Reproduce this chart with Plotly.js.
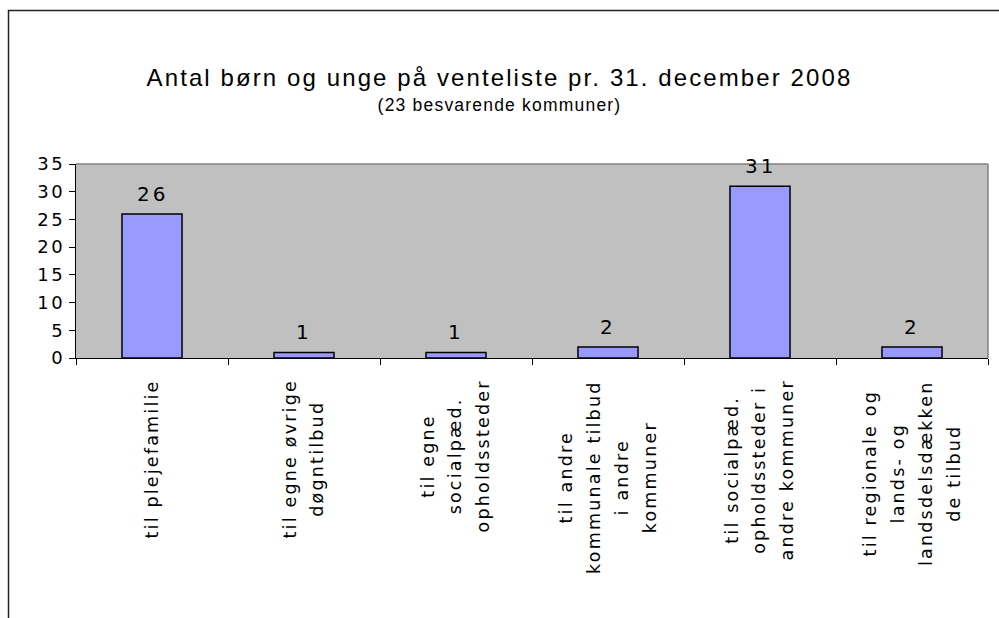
<!DOCTYPE html>
<html>
<head>
<meta charset="utf-8">
<script src="https://cdn.plot.ly/plotly-3.0.1.min.js"></script>
<style>
  html, body { margin: 0; padding: 0; background: #fff; }
  #chart { width: 999px; height: 618px; }
  .ytick text { letter-spacing: 2.6px; }
  .annotation-text { letter-spacing: 2.2px; }
</style>
</head>
<body>
<div id="chart"></div>
<script>
// ---- data ----
const categories = [
  "til plejefamilie",
  "til egne øvrige<br>døgntilbud",
  "til egne<br>socialpæd.<br>opholdssteder",
  "til andre<br>kommunale tilbud<br>i andre<br>kommuner",
  "til socialpæd.<br>opholdssteder i<br>andre kommuner",
  "til regionale og<br>lands- og<br>landsdelsdækken<br>de tilbud"
];
const catKeys = ["c1", "c2", "c3", "c4", "c5", "c6"];
const values = [26, 1, 1, 2, 31, 2];
const yTicks = [0, 5, 10, 15, 20, 25, 30, 35];
const titleText = "Antal børn og unge på venteliste pr. 31. december 2008";
const subtitleText = "(23 besvarende kommuner)";

// ---- chart ----
const FONT = "DejaVu Sans, Verdana, sans-serif";

const trace = {
  type: "bar",
  x: catKeys,
  y: values,
  marker: { color: "#9999FF", line: { color: "#000000", width: 1.5 } },
  hoverinfo: "skip"
};

const annotations = [];
values.forEach((v, i) => {
  annotations.push({
    x: catKeys[i], y: v, xref: "x", yref: "y",
    text: '<span style="letter-spacing:3px">' + String(v) + '</span>', showarrow: false,
    yanchor: "bottom", xanchor: "center", yshift: 6,
    font: { family: FONT, size: 20, color: "#000" }
  });
});
categories.forEach((c, i) => {
  const lines = c.split("<br>").map(s => '<span style="font-size:17.5px">' + s + '</span>').join("<br>");
  annotations.push({
    x: catKeys[i], y: -0.103, xref: "x", yref: "paper",
    text: lines, showarrow: false, textangle: -90,
    xanchor: "center", yanchor: "top", align: "center",
    font: { family: FONT, size: 21.5, color: "#000" }
  });
});

const layout = {
  width: 999, height: 618,
  margin: { l: 76, r: 11, t: 164, b: 260 },
  paper_bgcolor: "#ffffff",
  plot_bgcolor: "#C0C0C0",
  showlegend: false,
  bargap: 0.605,
  title: {
    text: '<span style="font-size:24px;letter-spacing:2.1px">' + titleText + '</span><br><span style="font-size:17.5px;letter-spacing:1.2px">' + subtitleText + '</span>',
    font: { family: "Liberation Sans, Arial, sans-serif", size: 19.5, color: "#000" },
    x: 0.5, xref: "container", xanchor: "center",
    y: 0.861, yref: "container", yanchor: "top"
  },
  xaxis: {
    type: "category",
    categoryorder: "array", categoryarray: catKeys,
    showticklabels: false,
    tickson: "boundaries",
    ticks: "outside", ticklen: 6, tickcolor: "#000", tickwidth: 1,
    showline: true, linecolor: "#000", linewidth: 1,
    showgrid: false, zeroline: false, fixedrange: true
  },
  yaxis: {
    range: [0, 35],
    tickvals: yTicks,
    ticktext: yTicks.map(String),
    ticks: "outside", ticklen: 6, tickcolor: "#000", tickwidth: 1,
    showline: true, linecolor: "#000", linewidth: 1,
    showgrid: false, zeroline: false,
    tickfont: { family: FONT, size: 18, color: "#000" },
    fixedrange: true
  },
  annotations: annotations,
  shapes: [
    // outer frame
    { type: "rect", xref: "paper", yref: "paper",
      x0: -0.074, x1: 1.2, y0: -2, y1: 1.791,
      line: { color: "#222", width: 1.5 }, fillcolor: "rgba(0,0,0,0)", layer: "above" },
    // plot area top and right edges (gray)
    { type: "line", xref: "paper", yref: "paper", x0: 0, x1: 1, y0: 1, y1: 1,
      line: { color: "#808080", width: 1.5 }, layer: "above" },
    { type: "line", xref: "paper", yref: "paper", x0: 1, x1: 1, y0: 0, y1: 1,
      line: { color: "#808080", width: 1.5 }, layer: "above" }
  ]
};

Plotly.newPlot("chart", [trace], layout, { displayModeBar: false, staticPlot: true });
</script>
</body>
</html>
